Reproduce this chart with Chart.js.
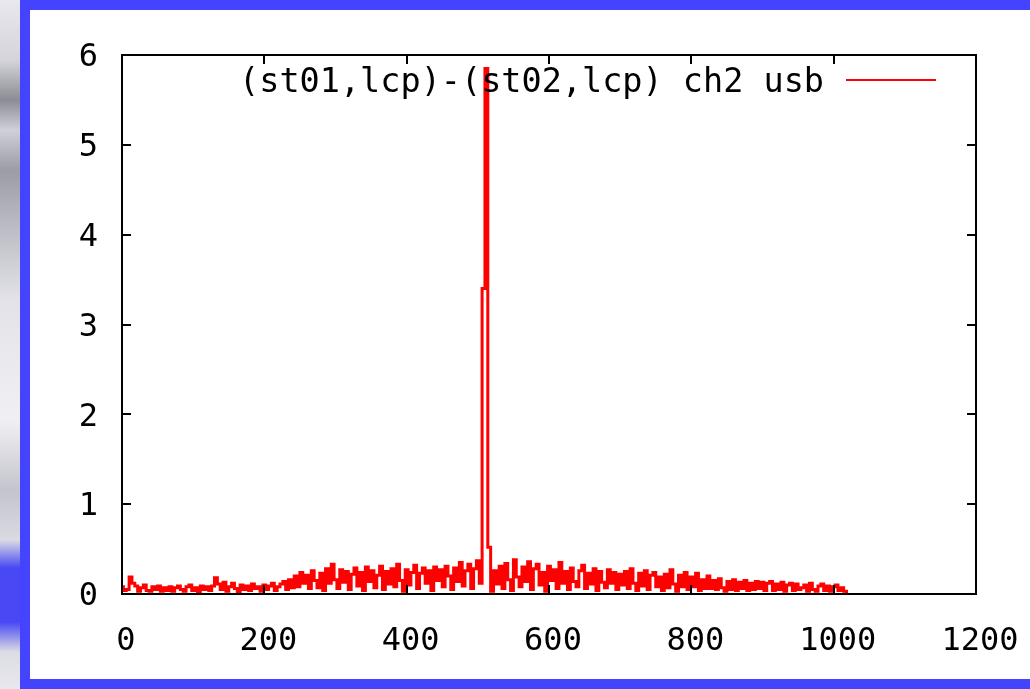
<!DOCTYPE html>
<html>
<head>
<meta charset="utf-8">
<script src="https://cdn.jsdelivr.net/npm/chart.js@4/dist/chart.umd.min.js"></script>
<style>
  html, body {
    margin: 0;
    width: 1030px;
    height: 689px;
    overflow: hidden;
  }
  body {
    position: relative;
    background: linear-gradient(to bottom, #e8e8ee 0px, #d4d4da 60px, #8c8c94 100px, #d0d0d8 130px,
      #9c9ca4 170px, #b8b8c0 220px, #e2e2e8 300px, #f0f0f4 420px, #c4c4cc 490px, #dadae2 540px,
      #4848f4 568px, #4848f4 622px, #dcdce4 652px, #e8e8ee 689px);
  }
  #frame {
    position: absolute;
    left: 20px;
    top: 0;
    width: 1040px;
    height: 689px;
    box-sizing: border-box;
    border: 10px solid #4444ff;
    background: #fff;
  }
  #chart {
    position: absolute;
    left: 0;
    top: 0;
  }
</style>
</head>
<body>
<div id="frame"></div>
<canvas id="chart" width="1030" height="689"></canvas>
<script>
// one value every 4 lag channels, 0 .. 1020
const channelStep = 4;
const seriesLabel = "(st01,lcp)-(st02,lcp) ch2 usb";
const xTicks = [0, 200, 400, 600, 800, 1000, 1200];
const yTicks = [0, 1, 2, 3, 4, 5, 6];

const amplitude = [
  0.08, 0.04, 0.05, 0.19, 0.12, 0.09, 0.03, 0.07, 0.10, 0.04, 0.03, 0.08, 0.05, 0.09, 0.03, 0.07,
  0.04, 0.08, 0.03, 0.07, 0.09, 0.05, 0.03, 0.08, 0.10, 0.04, 0.07, 0.02, 0.09, 0.05, 0.08, 0.04,
  0.09, 0.18, 0.11, 0.05, 0.13, 0.03, 0.08, 0.12, 0.06, 0.02, 0.10, 0.05, 0.09, 0.04, 0.11, 0.06,
  0.08, 0.03, 0.10, 0.05, 0.09, 0.12, 0.04, 0.08, 0.11, 0.14, 0.05, 0.16, 0.07, 0.20, 0.08, 0.24,
  0.12, 0.21, 0.06, 0.26, 0.15, 0.07, 0.23, 0.04, 0.28, 0.12, 0.33, 0.16, 0.06, 0.27, 0.13, 0.25,
  0.05, 0.22, 0.29, 0.09, 0.24, 0.04, 0.30, 0.14, 0.26, 0.07, 0.21, 0.31, 0.05, 0.25, 0.11, 0.28,
  0.08, 0.33, 0.15, 0.03, 0.27, 0.10, 0.24, 0.32, 0.06, 0.23, 0.29, 0.12, 0.26, 0.04, 0.30, 0.15,
  0.27, 0.08, 0.31, 0.20, 0.05, 0.29, 0.14, 0.35, 0.09, 0.26, 0.33, 0.06, 0.28, 0.37, 0.12, 3.40,
  5.85, 0.52, 0.03, 0.26, 0.11, 0.31, 0.06, 0.34, 0.16, 0.04, 0.38, 0.19, 0.08, 0.30, 0.14, 0.36,
  0.05, 0.28, 0.33, 0.10, 0.24, 0.03, 0.31, 0.15, 0.27, 0.06, 0.35, 0.12, 0.25, 0.05, 0.29, 0.14,
  0.08, 0.26, 0.32, 0.06, 0.23, 0.11, 0.28, 0.04, 0.25, 0.13, 0.07, 0.27, 0.12, 0.24, 0.05, 0.22,
  0.10, 0.25, 0.06, 0.28, 0.12, 0.04, 0.23, 0.09, 0.26, 0.05, 0.21, 0.24, 0.08, 0.19, 0.04, 0.22,
  0.07, 0.27, 0.11, 0.03, 0.21, 0.08, 0.24, 0.05, 0.19, 0.08, 0.23, 0.04, 0.16, 0.06, 0.20, 0.06,
  0.15, 0.05, 0.17, 0.07, 0.03, 0.14, 0.05, 0.16, 0.04, 0.13, 0.06, 0.15, 0.04, 0.12, 0.05, 0.14,
  0.06, 0.13, 0.04, 0.12, 0.14, 0.04, 0.11, 0.05, 0.13, 0.03, 0.10, 0.12, 0.04, 0.11, 0.05, 0.07,
  0.10, 0.03, 0.12, 0.05, 0.03, 0.09, 0.11, 0.04, 0.09, 0.03, 0.08, 0.10, 0.04, 0.07, 0.03, 0.01
];

const FONT = "'DejaVu Sans Mono', monospace";
const LINE_RED = "#ff0000";

// gnuplot style box: frame + inward ticks on all four sides
const frameTicks = {
  id: "frameTicks",
  afterDatasetsDraw(chart) {
    const { ctx, chartArea: a, scales } = chart;
    const len = 9;
    ctx.save();
    ctx.strokeStyle = "#000";
    ctx.lineWidth = 2;
    ctx.beginPath();
    xTicks.forEach((v) => {
      const px = Math.round(scales.x.getPixelForValue(v));
      ctx.moveTo(px, a.bottom);
      ctx.lineTo(px, a.bottom - len);
      ctx.moveTo(px, a.top);
      ctx.lineTo(px, a.top + len);
    });
    yTicks.forEach((v) => {
      const py = Math.round(scales.y.getPixelForValue(v));
      ctx.moveTo(a.left, py);
      ctx.lineTo(a.left + len, py);
      ctx.moveTo(a.right, py);
      ctx.lineTo(a.right - len, py);
    });
    ctx.stroke();
    ctx.strokeRect(a.left, a.top, a.right - a.left, a.bottom - a.top);
    ctx.restore();
  },
};

// key in the top of the plot, text then line sample
const keyBox = {
  id: "keyBox",
  afterDatasetsDraw(chart) {
    const { ctx, chartArea: a } = chart;
    const ds = chart.data.datasets[0];
    const lineEnd = a.right - 40;
    const lineStart = lineEnd - 90;
    const y = a.top + 25;
    ctx.save();
    ctx.font = "33.5px " + FONT;
    ctx.fillStyle = "#000";
    ctx.textAlign = "right";
    ctx.textBaseline = "middle";
    ctx.fillText(ds.label, lineStart - 22, y + 3);
    ctx.strokeStyle = ds.borderColor;
    ctx.lineWidth = 2;
    ctx.beginPath();
    ctx.moveTo(lineStart, y);
    ctx.lineTo(lineEnd, y);
    ctx.stroke();
    ctx.restore();
  },
};

new Chart(document.getElementById("chart"), {
  type: "line",
  data: {
    datasets: [
      {
        label: seriesLabel,
        data: amplitude.map((v, i) => ({ x: i * channelStep, y: v })),
        borderColor: LINE_RED,
        backgroundColor: LINE_RED,
        borderWidth: 3,
        pointRadius: 0,
        stepped: "middle",
        fill: false,
      },
    ],
  },
  options: {
    responsive: false,
    animation: false,
    devicePixelRatio: 1,
    layout: { padding: { top: 55, right: 54, left: 0, bottom: 0 } },
    plugins: {
      legend: { display: false },
      tooltip: { enabled: false },
    },
    scales: {
      x: {
        type: "linear",
        min: 0,
        max: 1200,
        afterFit: (s) => {
          s.height = 95;
          s.paddingLeft = 0;
          s.paddingRight = 0;
        },
        afterBuildTicks: (s) => { s.ticks = xTicks.map((v) => ({ value: v })); },
        grid: { display: false, drawTicks: false },
        border: { display: false },
        ticks: {
          color: "#000",
          padding: 28,
          maxRotation: 0,
          labelOffset: 4,
          callback: (v) => String(v),
          font: { family: FONT, size: 32 },
        },
      },
      y: {
        min: 0,
        max: 6,
        afterFit: (s) => {
          s.width = 122;
          s.paddingTop = 0;
          s.paddingBottom = 0;
        },
        afterBuildTicks: (s) => { s.ticks = yTicks.map((v) => ({ value: v })); },
        grid: { display: false, drawTicks: false },
        border: { display: false },
        ticks: {
          color: "#000",
          padding: 24,
          labelOffset: 3,
          callback: (v) => String(v),
          font: { family: FONT, size: 32 },
        },
      },
    },
  },
  plugins: [frameTicks, keyBox],
});
</script>
</body>
</html>
